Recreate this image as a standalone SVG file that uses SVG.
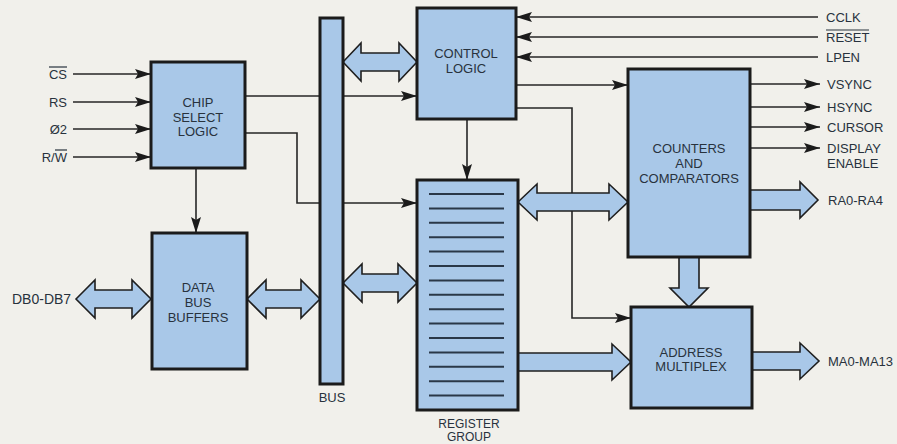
<svg xmlns="http://www.w3.org/2000/svg" width="897" height="444" viewBox="0 0 897 444">
<defs>
<style>
.box{fill:#a9c8e8;stroke:#1b1b1b;stroke-width:3}
.blk{fill:#a9c8e8;stroke:#1f1f1f;stroke-width:1.6;stroke-linejoin:miter}
.ln{fill:none;stroke:#262626;stroke-width:1.6}
.arr{marker-end:url(#ah)}
.t{font-family:"Liberation Sans",Arial,sans-serif;font-size:13px;fill:#28323d}
.s{font-size:12px}
.c{text-anchor:middle}
.e{text-anchor:end}
.reg{stroke:#2a3848;stroke-width:2}
.ov{stroke:#28323d;stroke-width:1.2}
</style>
<marker id="ah" viewBox="0 0 16 10" refX="16" refY="5" markerWidth="16" markerHeight="10" markerUnits="userSpaceOnUse" orient="auto">
<path d="M0,0 L16,5 L0,10 L3,5 Z" fill="#1b1b1b"/>
</marker>
</defs>
<rect width="897" height="444" fill="#f1f0eb"/>

<g id="connectors">
<line class="ln arr" x1="73" y1="74" x2="151" y2="74"/>
<line class="ln arr" x1="73" y1="102" x2="151" y2="102"/>
<line class="ln arr" x1="73" y1="129" x2="151" y2="129"/>
<line class="ln arr" x1="73" y1="157" x2="151" y2="157"/>
<line class="ln arr" x1="245" y1="96" x2="417" y2="96"/>
<polyline class="ln arr" points="245,133 297,133 297,203 417,203"/>
<line class="ln arr" x1="196" y1="168" x2="196" y2="233"/>
<line class="ln arr" x1="818" y1="17" x2="516" y2="17"/>
<line class="ln arr" x1="818" y1="37" x2="516" y2="37"/>
<line class="ln arr" x1="818" y1="57" x2="516" y2="57"/>
<line class="ln arr" x1="516" y1="85" x2="628" y2="85"/>
<polyline class="ln arr" points="516,108 572,108 572,318 631,318"/>
<line class="ln arr" x1="467" y1="119" x2="467" y2="180"/>
<line class="ln arr" x1="750" y1="84" x2="820" y2="84"/>
<line class="ln arr" x1="750" y1="107" x2="820" y2="107"/>
<line class="ln arr" x1="750" y1="127" x2="820" y2="127"/>
<line class="ln arr" x1="750" y1="148" x2="820" y2="148"/>
<path class="blk" d="M76,299 L95,280 L95,290 L132,290 L132,280 L151,299 L132,318 L132,308 L95,308 L95,318 Z"/>
<path class="blk" d="M247,299 L266,280 L266,290 L301,290 L301,280 L320,299 L301,318 L301,308 L266,308 L266,318 Z"/>
<path class="blk" d="M343,62 L361,43 L361,53 L399,53 L399,43 L417,62 L399,81 L399,71 L361,71 L361,81 Z"/>
<path class="blk" d="M343,283 L362,264 L362,274 L398,274 L398,264 L417,283 L398,302 L398,292 L362,292 L362,302 Z"/>
<path class="blk" d="M518,202 L537,184 L537,193 L609,193 L609,184 L628,202 L609,220 L609,211 L537,211 L537,220 Z"/>
<path class="blk" d="M750,190 L800,190 L800,182 L818,200 L800,218 L800,210 L750,210 Z"/>
<path class="blk" d="M518,353 L612,353 L612,344 L631,362 L612,380 L612,371 L518,371 Z"/>
<path class="blk" d="M752,352 L800,352 L800,343 L819,361 L800,379 L800,370 L752,370 Z"/>
<path class="blk" d="M679,257 L699,257 L699,288 L708,288 L689,307 L670,288 L679,288 Z"/>
</g>

<g id="bus">
<rect class="box" x="320" y="18" width="23" height="366"/>
<text class="t c" x="332" y="402">BUS</text>
</g>

<g id="chip-select-logic">
<rect class="box" x="151" y="62" width="94" height="106"/>
<text class="t c" x="198" y="107">CHIP</text>
<text class="t c" x="198" y="122">SELECT</text>
<text class="t c" x="198" y="136">LOGIC</text>
</g>

<g id="data-bus-buffers">
<rect class="box" x="152" y="233" width="95" height="136"/>
<text class="t c" x="198" y="292">DATA</text>
<text class="t c" x="198" y="307">BUS</text>
<text class="t c" x="198" y="322">BUFFERS</text>
</g>

<g id="control-logic">
<rect class="box" x="417" y="8" width="99" height="111"/>
<text class="t c" x="466" y="58">CONTROL</text>
<text class="t c" x="466" y="73">LOGIC</text>
</g>

<g id="register-group">
<rect class="box" x="417" y="180" width="101" height="230"/>
<g class="reg">
<line x1="429" y1="194" x2="504" y2="194"/>
<line x1="429" y1="208.4" x2="504" y2="208.4"/>
<line x1="429" y1="222.8" x2="504" y2="222.8"/>
<line x1="429" y1="237.2" x2="504" y2="237.2"/>
<line x1="429" y1="251.6" x2="504" y2="251.6"/>
<line x1="429" y1="266" x2="504" y2="266"/>
<line x1="429" y1="280.4" x2="504" y2="280.4"/>
<line x1="429" y1="294.8" x2="504" y2="294.8"/>
<line x1="429" y1="309.2" x2="504" y2="309.2"/>
<line x1="429" y1="323.6" x2="504" y2="323.6"/>
<line x1="429" y1="338" x2="504" y2="338"/>
<line x1="429" y1="352.4" x2="504" y2="352.4"/>
<line x1="429" y1="366.8" x2="504" y2="366.8"/>
<line x1="429" y1="381.2" x2="504" y2="381.2"/>
<line x1="429" y1="395.6" x2="504" y2="395.6"/>
</g>
<text class="t s c" x="469" y="428">REGISTER</text>
<text class="t s c" x="469" y="441">GROUP</text>
</g>

<g id="counters-and-comparators">
<rect class="box" x="628" y="69" width="122" height="188"/>
<text class="t c" x="689" y="153">COUNTERS</text>
<text class="t c" x="689" y="168">AND</text>
<text class="t c" x="689" y="183">COMPARATORS</text>
</g>

<g id="address-multiplex">
<rect class="box" x="631" y="307" width="121" height="101"/>
<text class="t c" x="691" y="357">ADDRESS</text>
<text class="t c" x="691" y="371">MULTIPLEX</text>
</g>

<g id="labels">
<text class="t e" x="67" y="79">CS</text>
<line class="ov" x1="49" y1="67" x2="67" y2="67"/>
<text class="t e" x="67" y="107">RS</text>
<text class="t e" x="67" y="134">Ø2</text>
<text class="t e" x="67" y="162">R/W</text>
<line class="ov" x1="55" y1="150" x2="67" y2="150"/>
<text class="t" x="12" y="304" style="font-size:14px">DB0-DB7</text>
<text class="t" x="826" y="22">CCLK</text>
<text class="t" x="826" y="42">RESET</text>
<line class="ov" x1="826" y1="30" x2="869" y2="30"/>
<text class="t" x="826" y="62">LPEN</text>
<text class="t" x="827" y="89">VSYNC</text>
<text class="t" x="827" y="112">HSYNC</text>
<text class="t" x="827" y="132">CURSOR</text>
<text class="t" x="827" y="153">DISPLAY</text>
<text class="t" x="827" y="168">ENABLE</text>
<text class="t" x="828" y="205">RA0-RA4</text>
<text class="t" x="828" y="366">MA0-MA13</text>
</g>
</svg>
